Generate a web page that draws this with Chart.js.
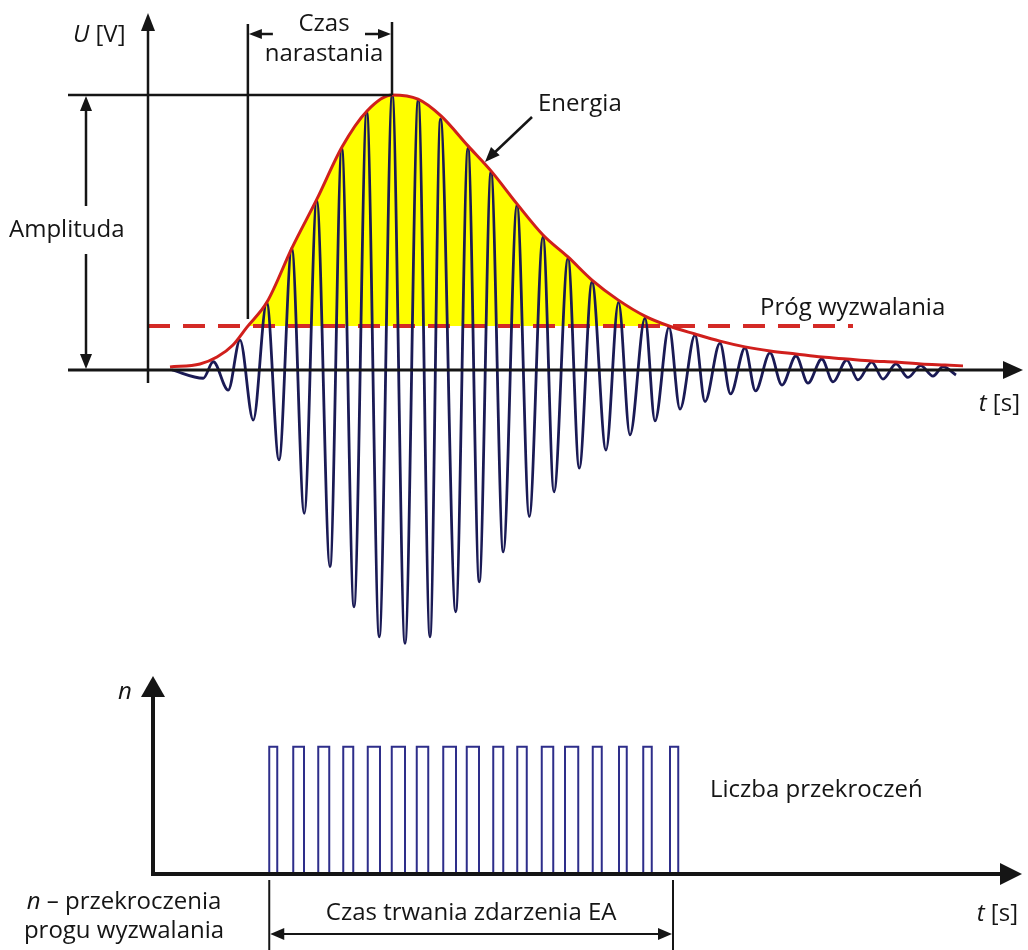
<!DOCTYPE html>
<html>
<head>
<meta charset="utf-8">
<script src="https://cdn.jsdelivr.net/npm/chart.js@4.4.1/dist/chart.umd.min.js"></script>
<style>
  html, body { margin: 0; padding: 0; background: #fff; }
  canvas { display: block; }
</style>
</head>
<body>
<canvas id="sygnalEA" width="1028" height="950"></canvas>
<script>
// czas w µs, napiecie w V (amplituda sygnalu = 1 V)
// kolejne ekstrema przebiegu (szczyty i doliny)
var extremaTime = [9.6, 22.1, 26.1, 32.1, 36.8, 42.1, 47.5, 52.4, 57.5, 62.5, 67.5, 72.8, 77.5, 82.4, 87.5, 92.5,
  97.7, 102.8, 108.1, 112.8, 117.0, 123.1, 128.0, 132.5, 137.2, 142.1, 147.6, 152.5, 158.0, 162.4, 168.0, 172.5,
  177.6, 183.2, 188.2, 192.8, 198.8, 202.8, 208.4, 212.8, 218.8, 222.8, 228.8, 233.0, 238.8, 243.0, 248.8, 253.6,
  259.2, 264.0, 269.5, 274.0, 279.5, 284.0, 289.5, 294.0, 299.2, 304.0, 309.1, 314.0, 318.0, 323.2];
var extremaU = [0, -0.03, 0.03, -0.073, 0.109, -0.182, 0.245, -0.327, 0.443, -0.521, 0.618, -0.715, 0.806, -0.861, 0.939, -0.97,
  1.0, -0.994, 0.982, -0.97, 0.913, -0.879, 0.807, -0.77, 0.72, -0.661, 0.6, -0.533, 0.484, -0.443, 0.407, -0.357,
  0.32, -0.291, 0.247, -0.236, 0.189, -0.185, 0.156, -0.142, 0.127, -0.115, 0.098, -0.087, 0.08, -0.076, 0.062, -0.055,
  0.051, -0.048, 0.04, -0.043, 0.036, -0.036, 0.029, -0.033, 0.022, -0.027, 0.016, -0.022, 0.012, -0.018];

// obwiednia (energia)
var envelopeTime = [8.8, 20.8, 27.6, 34.0, 39.6, 47.6, 57.6, 67.6, 77.6, 87.6, 97.6, 108.0, 117.2, 128.0, 137.2, 147.6, 158.0,
  168.0, 177.6, 188.0, 198.8, 208.4, 218.8, 228.8, 238.8, 248.8, 259.2, 269.6, 279.6, 289.6, 299.2, 309.2, 318.8, 326.0];
var envelopeU = [0.011, 0.022, 0.047, 0.091, 0.156, 0.247, 0.444, 0.622, 0.811, 0.942, 1.0, 0.985, 0.924, 0.815, 0.724, 0.604, 0.491,
  0.411, 0.327, 0.255, 0.196, 0.16, 0.131, 0.105, 0.084, 0.069, 0.058, 0.047, 0.04, 0.033, 0.029, 0.022, 0.018, 0.015];

// prog wyzwalania
var threshold = 0.16;
var thresholdSpan = [0, 282];

// przekroczenia progu (impulsy licznika)
var pulseStart = [48.5, 58.1, 68.1, 78.1, 87.9, 97.5, 107.5, 118.1, 127.5, 138.1, 147.7, 157.5, 166.8, 177.9, 188.4, 198.1, 208.8];
var pulseEnd = [51.7, 62.4, 72.5, 82.1, 92.8, 102.8, 112.1, 123.2, 132.4, 142.1, 151.5, 162.1, 172.1, 181.5, 191.5, 201.5, 212.1];
var eventSpan = [48.5, 210];

function toPoints(xs, ys) {
  return xs.map(function (x, i) { return { x: x, y: ys[i] }; });
}

var pulsePoints = [];
pulseStart.forEach(function (s, i) {
  pulsePoints.push({ x: s, y: 0 }, { x: s, y: 1 }, { x: pulseEnd[i], y: 1 }, { x: pulseEnd[i], y: 0 });
});

// szczyt obwiedni i poczatek narastania (pierwsze przekroczenie progu)
var peakIdx = envelopeU.indexOf(Math.max.apply(null, envelopeU));
var peakT = envelopeTime[peakIdx], peakU = envelopeU[peakIdx];
var riseT = envelopeTime[0];
for (var i = 1; i < envelopeU.length; i++) {
  if (envelopeU[i] >= threshold) {
    var a = envelopeU[i - 1], b = envelopeU[i];
    riseT = envelopeTime[i - 1] + (threshold - a) / (b - a) * (envelopeTime[i] - envelopeTime[i - 1]);
    break;
  }
}

var INK = '#151515';
var FONT = '"Open Sans", sans-serif';

function seg(ctx, x1, y1, x2, y2, w) {
  ctx.lineWidth = w;
  ctx.beginPath();
  ctx.moveTo(x1, y1);
  ctx.lineTo(x2, y2);
  ctx.stroke();
}

// grot strzalki: wierzcholek (x, y), kierunek (dx, dy)
function head(ctx, x, y, dx, dy, len, half) {
  var L = Math.sqrt(dx * dx + dy * dy); dx /= L; dy /= L;
  var bx = x - dx * len, by = y - dy * len;
  ctx.beginPath();
  ctx.moveTo(x, y);
  ctx.lineTo(bx - dy * half, by + dx * half);
  ctx.lineTo(bx + dy * half, by - dx * half);
  ctx.closePath();
  ctx.fill();
}

// tekst z fragmentami kursywa: parts = [[tekst, italic], ...]
function mixed(ctx, parts, x, y, align, size) {
  var widths = parts.map(function (p) {
    ctx.font = (p[1] ? 'italic ' : '') + size + 'px ' + FONT;
    return ctx.measureText(p[0]).width;
  });
  var total = widths.reduce(function (s, w) { return s + w; }, 0);
  var cx = align === 'center' ? x - total / 2 : (align === 'right' ? x - total : x);
  ctx.textAlign = 'left';
  parts.forEach(function (p, k) {
    ctx.font = (p[1] ? 'italic ' : '') + size + 'px ' + FONT;
    ctx.fillText(p[0], cx, y);
    cx += widths[k];
  });
}

var background = {
  id: 'background',
  beforeDraw: function (chart) {
    var ctx = chart.ctx;
    ctx.save();
    ctx.fillStyle = '#fff';
    ctx.fillRect(0, 0, chart.width, chart.height);
    ctx.restore();
  }
};

var annotations = {
  id: 'annotations',
  afterDatasetsDraw: function (chart) {
    var ctx = chart.ctx;
    var sx = chart.scales.x, sy = chart.scales.y, sn = chart.scales.yn;
    var X = function (t) { return sx.getPixelForValue(t); };
    var Y = function (u) { return sy.getPixelForValue(u); };
    var N = function (n) { return sn.getPixelForValue(n); };

    ctx.save();
    ctx.strokeStyle = INK;
    ctx.fillStyle = INK;
    ctx.textBaseline = 'alphabetic';

    // --- gorny wykres: osie ---
    var y0 = Y(0), x0 = X(0);
    seg(ctx, 68, y0, 1006, y0, 3);
    head(ctx, 1023, y0, 1, 0, 20, 9);
    seg(ctx, x0, 383, x0, 28, 2.5);
    head(ctx, x0, 13, 0, -1, 18, 7);

    // amplituda
    var yA = Y(peakU), xp = X(peakT), xr = X(riseT);
    seg(ctx, 68, yA, xp, yA, 2.5);
    seg(ctx, 86, yA + 10, 86, 206, 2.5);
    seg(ctx, 86, 254, 86, y0 - 10, 2.5);
    head(ctx, 86, yA + 1, 0, -1, 15, 6);
    head(ctx, 86, y0 - 1, 0, 1, 15, 6);

    // czas narastania
    seg(ctx, xr, 24, xr, Y(threshold) - 7, 2.5);
    seg(ctx, xp, 22, xp, yA, 2.5);
    seg(ctx, xr + 8, 34, xr + 25, 34, 2.5);
    head(ctx, xr + 1, 34, -1, 0, 13, 5);
    seg(ctx, xp - 27, 34, xp - 8, 34, 2.5);
    head(ctx, xp - 1, 34, 1, 0, 13, 5);

    // energia
    seg(ctx, 532, 117, 492, 155, 2.5);
    head(ctx, 485, 162, -1, 1.05, 15, 6);

    // --- dolny wykres: osie ---
    var yb = N(0), xb = X(2);
    seg(ctx, xb, yb + 2, xb, 694, 4);
    head(ctx, xb, 676, 0, -1, 21, 12);
    seg(ctx, xb - 2, yb, 1002, yb, 4);
    head(ctx, 1022, yb, 1, 0, 22, 11);

    // czas trwania zdarzenia
    var xs = X(eventSpan[0]), xe = X(eventSpan[1]);
    seg(ctx, xs, 880, xs, 950, 2);
    seg(ctx, xe, 880, xe, 950, 2);
    seg(ctx, xs + 8, 934, xe - 8, 934, 2);
    head(ctx, xs + 1, 934, -1, 0, 14, 6);
    head(ctx, xe - 1, 934, 1, 0, 14, 6);

    // --- opisy ---
    var fs = 24;
    mixed(ctx, [['U', true], [' [V]', false]], 73, 42, 'left', fs);
    mixed(ctx, [['Czas', false]], 324, 31, 'center', fs);
    mixed(ctx, [['narastania', false]], 324, 61, 'center', fs);
    mixed(ctx, [['Amplituda', false]], 9, 237, 'left', fs);
    mixed(ctx, [['Energia', false]], 538, 111, 'left', fs);
    mixed(ctx, [['Próg wyzwalania', false]], 760, 315, 'left', fs);
    mixed(ctx, [['t', true], [' [s]', false]], 1020, 411, 'right', fs);

    mixed(ctx, [['n', true]], 118, 699, 'left', fs);
    mixed(ctx, [['Liczba przekroczeń', false]], 710, 797, 'left', fs);
    mixed(ctx, [['Czas trwania zdarzenia EA', false]], (xs + xe) / 2, 920, 'center', fs);
    mixed(ctx, [['n', true], [' – przekroczenia', false]], 124, 909, 'center', fs);
    mixed(ctx, [['progu wyzwalania', false]], 124, 938, 'center', fs);
    mixed(ctx, [['t', true], [' [s]', false]], 1018, 921, 'right', fs);

    ctx.restore();
  }
};

var ctx = document.getElementById('sygnalEA').getContext('2d');
var sygnalEA = new Chart(ctx, {
  type: 'line',
  data: {
    datasets: [{
      label: 'Energia (obwiednia)',
      data: toPoints(envelopeTime, envelopeU),
      borderColor: '#d01f1c',
      borderWidth: 3,
      cubicInterpolationMode: 'monotone',
      fill: { target: { value: threshold }, above: '#ffff00', below: 'rgba(0,0,0,0)' }
    }, {
      label: 'Sygnał EA',
      data: toPoints(extremaTime, extremaU),
      borderColor: '#1a1a55',
      borderWidth: 2.8,
      cubicInterpolationMode: 'monotone',
      fill: false
    }, {
      label: 'Próg wyzwalania',
      data: toPoints(thresholdSpan, [threshold, threshold]),
      borderColor: '#d42a26',
      borderWidth: 4,
      borderDash: [22, 13],
      fill: false
    }, {
      label: 'Liczba przekroczeń',
      data: pulsePoints,
      yAxisID: 'yn',
      borderColor: '#2e2e8a',
      borderWidth: 2,
      tension: 0,
      fill: false
    }]
  },
  options: {
    responsive: false,
    animation: false,
    events: [],
    elements: { point: { radius: 0 } },
    layout: { padding: 0 },
    scales: {
      x: { type: 'linear', min: -59.2, max: 352, display: false },
      y: { type: 'linear', min: -2.109091, max: 1.345455, display: false },
      yn: { type: 'linear', min: -0.597, max: 6.866, display: false }
    },
    plugins: {
      legend: { display: false },
      tooltip: { enabled: false },
      filler: { drawTime: 'beforeDatasetsDraw' }
    }
  },
  plugins: [background, annotations]
});
</script>
</body>
</html>
